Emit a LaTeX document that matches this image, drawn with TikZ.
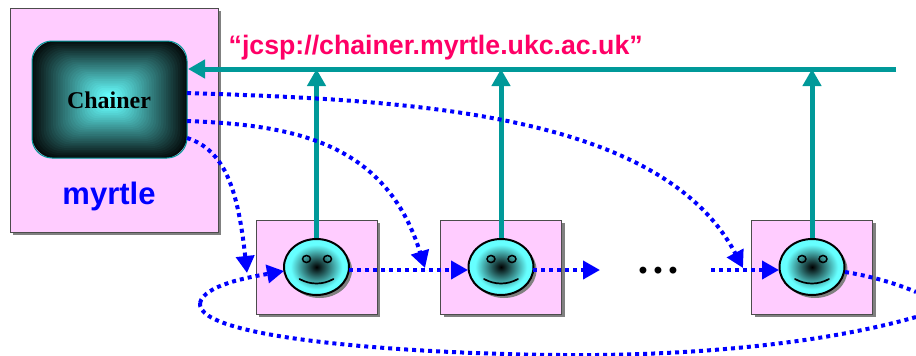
\documentclass[tikz,border=0pt]{standalone}
\usepackage{fontspec}
\setmainfont{Liberation Sans}
\newfontfamily\timesfont{Liberation Serif}
\usetikzlibrary{arrows.meta,shapes.geometric,shadows}
\definecolor{boxpink}{HTML}{FFCCFF}
\definecolor{facecyan}{HTML}{66FFFF}
\definecolor{busteal}{HTML}{009999}
\definecolor{shadowgrey}{HTML}{808080}
\definecolor{urlred}{HTML}{FF0066}
\pgfdeclareradialshading{facefill}{\pgfpoint{0bp}{0bp}}{color(0bp)=(black);color(20bp)=(facecyan);color(50bp)=(facecyan)}
\tikzset{
  hostbox/.style={draw=black!70,line width=1pt,fill=boxpink,general shadow={fill=shadowgrey,shadow xshift=3pt,shadow yshift=-3pt}},
  facenode/.style={ellipse,draw=black,line width=2pt,minimum width=65pt,minimum height=56pt,inner sep=0pt,shading=facefill,general shadow={fill=shadowgrey,shadow xshift=3pt,shadow yshift=-3pt}},
  eyenode/.style={ellipse,draw=black,line width=1.5pt,minimum width=8pt,minimum height=7pt,inner sep=0pt},
  busline/.style={draw=busteal,line width=5pt,-{Triangle[length=17pt,width=18pt]}},
  dotline/.style={draw=blue,line width=4pt,dash pattern=on 4pt off 4pt,-{Triangle[length=17pt,width=18pt]}},
  dotplain/.style={draw=blue,line width=4pt,dash pattern=on 4pt off 4pt}
}
\begin{document}
\begin{tikzpicture}[x=1pt,y=-1pt]
\useasboundingbox (0,0) rectangle (916,356);
\path (114,120) node[hostbox,minimum width=208pt,minimum height=224pt,inner sep=0pt] (myrtle) {}
      (316.5,267) node[hostbox,minimum width=121pt,minimum height=94pt,inner sep=0pt] (boxa) {}
      (501,267) node[hostbox,minimum width=121pt,minimum height=94pt,inner sep=0pt] (boxb) {}
      (812,267) node[hostbox,minimum width=121pt,minimum height=94pt,inner sep=0pt] (boxc) {}
      (109.5,99.5) node[draw=busteal,line width=1pt,rounded corners=20pt,minimum width=155pt,minimum height=117pt,inner sep=0pt,
        path picture={
          \begin{scope}[shift={(path picture bounding box.center)}]
          \foreach \i [evaluate=\i as \pct using 5+3.1*\i, evaluate=\i as \w using 78-2.4*\i, evaluate=\i as \h using 59-1.75*\i, evaluate=\i as \r using 24-0.6*\i] in {0,...,30}
            \fill[facecyan!\pct!black,rounded corners=\r pt] (-\w,-\h) rectangle (\w,\h);
          \end{scope}
        }] (chainer) {}
      (109,108) node[anchor=base,inner sep=0pt,font=\timesfont\bfseries\fontsize{24}{24}\selectfont] (chainerlabel) {Chainer}
      (109,204) node[anchor=base,inner sep=0pt,text=blue,font=\bfseries\fontsize{31}{31}\selectfont] (myrtlelabel) {myrtle}
      (228.5,54) node[anchor=base west,inner sep=0pt,text=urlred,font=\bfseries\fontsize{26.7}{26.7}\selectfont] (url) {“jcsp://chainer.myrtle.ukc.ac.uk”}
      (658,273) node[inner sep=0pt,font=\bfseries\fontsize{24}{24}\selectfont] (dots) {\makebox[15pt]{•}\makebox[15pt]{•}\makebox[15pt]{•}}
      ;
\path (316.5,267) node[facenode] (facea) {}
      (501,267) node[facenode] (faceb) {}
      (812,267) node[facenode] (facec) {};
\foreach \f in {facea,faceb,facec} {
  \node[eyenode] (\f eyeleft) at ([shift={(-10,-8)}]\f.center) {};
  \node[eyenode] (\f eyeright) at ([shift={(11,-8)}]\f.center) {};
  \draw[line width=1.7pt,line cap=round] ([shift={(-17,12)}]\f.center) .. controls ([shift={(-6,18)}]\f.center) and ([shift={(6,18)}]\f.center) .. ([shift={(17,12)}]\f.center);
}
% connector ends
\coordinate (busend) at (896,69);
\coordinate (busa) at (facea.north |- busend);
\coordinate (busb) at (faceb.north |- busend);
\coordinate (busc) at (facec.north |- busend);
\coordinate (busin) at (188,69);
\coordinate (chainera) at (187,93);
\coordinate (chainerb) at (187,121);
\coordinate (chainerc) at (187,138);
\coordinate (tipa) at (743,268);
\coordinate (tipb) at (425,268);
\coordinate (tipc) at (247,273);
\coordinate (ringtop) at (916,292);
\coordinate (ringbottom) at (916,317);
\coordinate (ringleft) at (200,303);
\coordinate (ringlow) at (560,355);
\coordinate (stopb) at (600,270);
\coordinate (startc) at (711,270);
\coordinate (faceaout) at (349,270);
\coordinate (facebin) at (468,270);
\coordinate (facebout) at (533,270);
\coordinate (facecin) at (779,270);
\coordinate (facecout) at (845,272);
\coordinate (faceain) at (284,271);
% name server bus
\draw[busline] (busend) -- (busin);
\draw[busline] (facea.north) -- (busa);
\draw[busline] (faceb.north) -- (busb);
\draw[busline] (facec.north) -- (busc);
% chainer links
\draw[dotline] (chainera) .. controls (400,100) and (660,110) .. (tipa);
\draw[dotline] (chainerb) .. controls (290,125) and (385,140) .. (tipb);
\draw[dotline] (chainerc) .. controls (225,150) and (238,190) .. (tipc);
% ring
\draw[dotline] (faceaout) -- (facebin);
\draw[dotline] (facebout) -- (stopb);
\draw[dotline] (startc) -- (facecin);
\draw[dotplain] (facecout) .. controls (870,276) and (895,283) .. (ringtop);
\draw[dotplain] (ringbottom) .. controls (800,350) and (650,356) .. (ringlow);
\draw[dotplain] (ringlow) .. controls (420,354) and (196,340) .. (ringleft);
\draw[dotline] (ringleft) .. controls (204,285) and (250,277) .. (faceain);
\end{tikzpicture}
\end{document}
